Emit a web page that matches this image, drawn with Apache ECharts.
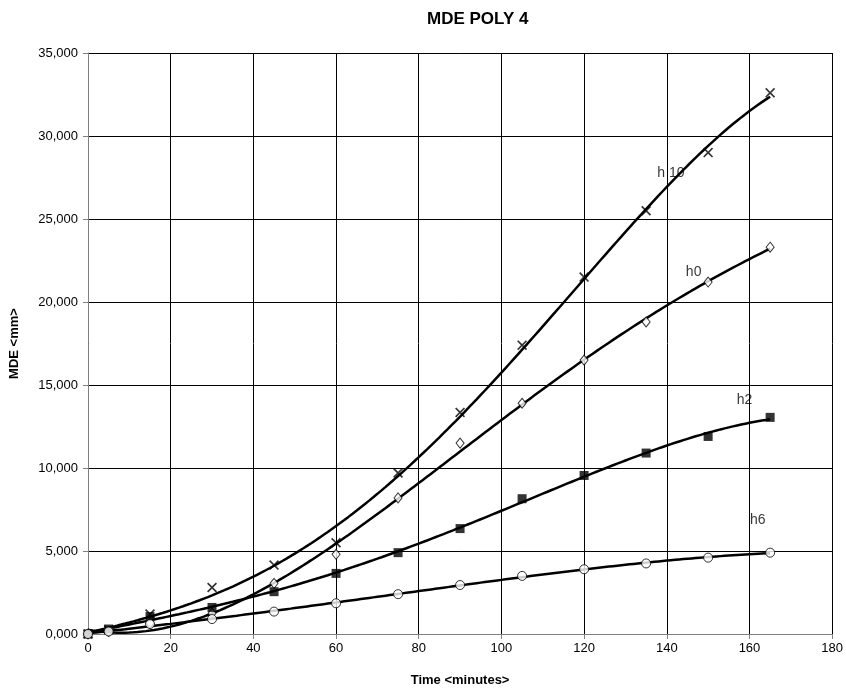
<!DOCTYPE html>
<html>
<head>
<meta charset="utf-8">
<script src="https://cdn.jsdelivr.net/npm/echarts@6/dist/echarts.min.js"></script>
<style>
  html, body { margin: 0; padding: 0; background: #fff; }
  #chart { width: 846px; height: 692px; }
</style>
</head>
<body>
<div id="chart"></div>
<script>
// time in minutes
var times = [0, 5, 15, 30, 45, 60, 75, 90, 105, 120, 135, 150, 165];
// MDE values (mm)
var h10 = [0, 250, 1200, 2800, 4150, 5500, 9700, 13350, 17400, 21500, 25500, 29000, 32600];
var h0 = [0, 150, 650, 1250, 3050, 4800, 8200, 11500, 13900, 16500, 18800, 21200, 23300];
var h2 = [0, 300, 1050, 1600, 2550, 3650, 4900, 6350, 8150, 9550, 10900, 11900, 13050];
var h6 = [0, 150, 600, 900, 1350, 1850, 2400, 2950, 3500, 3900, 4250, 4600, 4900];
var seriesNames = ['h 10', 'h0', 'h2', 'h6'];
// where the curve names sit, in data units [time, mde]
var nameSpots = [[141, 27750], [146.5, 21800], [158.8, 14100], [162, 6830]];

var xTicks = [0, 20, 40, 60, 80, 100, 120, 140, 160, 180];
var yTicks = [0, 5000, 10000, 15000, 20000, 25000, 30000, 35000];

// 4th order least squares trend line, like the spreadsheet did
function polyFit(xs, ys, deg) {
  var n = deg + 1, A = [], i, j, k;
  for (i = 0; i < n; i++) {
    A.push([]);
    for (j = 0; j <= n; j++) A[i].push(0);
  }
  for (k = 0; k < xs.length; k++) {
    var x = xs[k] / 100;
    for (i = 0; i < n; i++) {
      for (j = 0; j < n; j++) A[i][j] += Math.pow(x, i + j);
      A[i][n] += ys[k] * Math.pow(x, i);
    }
  }
  for (i = 0; i < n; i++) {
    var p = i;
    for (j = i + 1; j < n; j++) if (Math.abs(A[j][i]) > Math.abs(A[p][i])) p = j;
    var t = A[i]; A[i] = A[p]; A[p] = t;
    for (j = i + 1; j < n; j++) {
      var f = A[j][i] / A[i][i];
      for (k = i; k <= n; k++) A[j][k] -= f * A[i][k];
    }
  }
  var c = new Array(n);
  for (i = n - 1; i >= 0; i--) {
    var s = A[i][n];
    for (j = i + 1; j < n; j++) s -= A[i][j] * c[j];
    c[i] = s / A[i][i];
  }
  return c;
}

function trend(ys) {
  var c = polyFit(times, ys, 4), out = [];
  var last = times[times.length - 1];
  for (var t = 0; t <= last; t += 1) {
    var x = t / 100, v = 0;
    for (var i = 0; i < c.length; i++) v += c[i] * Math.pow(x, i);
    out.push([t, Math.max(v, 0)]);
  }
  return out;
}

function pairs(ys) {
  return times.map(function (t, i) { return [t, ys[i]]; });
}

var crossPath = 'path://M0,0.12 L0.12,0 L0.5,0.38 L0.88,0 L1,0.12 L0.62,0.5 L1,0.88 L0.88,1 L0.5,0.62 L0.12,1 L0,0.88 L0.38,0.5 Z';
var all = [h10, h0, h2, h6];
var marks = [
  { symbol: crossPath, symbolSize: 10, itemStyle: { color: '#000' } },
  { symbol: 'diamond', symbolSize: [8, 10], itemStyle: { color: '#fff', borderColor: '#000', borderWidth: 1 } },
  { symbol: 'rect', symbolSize: 9, itemStyle: { color: '#000' } },
  { symbol: 'circle', symbolSize: 9, itemStyle: { color: '#fff', borderColor: '#000', borderWidth: 1 } }
];

var series = [];
all.forEach(function (ys, i) {
  series.push({
    type: 'line',
    data: trend(ys),
    showSymbol: false,
    lineStyle: { color: '#000', width: 2.5 },
    z: 2,
    silent: true
  });
  series.push({
    type: 'scatter',
    data: pairs(ys),
    symbol: marks[i].symbol,
    symbolSize: marks[i].symbolSize,
    itemStyle: marks[i].itemStyle,
    z: 3
  });
});
series.push({
  type: 'scatter',
  data: nameSpots.map(function (p, i) { return { value: p, name: seriesNames[i] }; }),
  symbolSize: 0,
  label: {
    show: true,
    position: 'inside',
    formatter: '{b}',
    color: '#000',
    textBorderWidth: 0,
    fontSize: 14,
    fontFamily: 'Liberation Sans, Arial, sans-serif'
  },
  z: 4
});

function yFmt(v) {
  return (v / 1000).toFixed(3).replace('.', ',');
}

var chart = echarts.init(document.getElementById('chart'));
chart.setOption({
  animation: false,
  textStyle: { fontFamily: 'Liberation Sans, Arial, sans-serif' },
  title: {
    text: 'MDE POLY 4',
    left: 422,
    top: 6,
    textStyle: { fontSize: 17, fontWeight: 'bold', color: '#000' }
  },
  grid: { left: 85, right: 13, top: 53, bottom: 55 },
  xAxis: {
    type: 'value',
    min: 0,
    max: 180,
    interval: 20,
    name: 'Time <minutes>',
    nameLocation: 'middle',
    nameGap: 40,
    nameTextStyle: { fontSize: 13, fontWeight: 'bold', color: '#000' },
    axisLine: { lineStyle: { color: '#808080' } },
    axisTick: { show: true, length: 5, lineStyle: { color: '#808080' } },
    axisLabel: { color: '#000', fontSize: 13, margin: 8 },
    splitLine: { show: true, lineStyle: { color: '#000', width: 1 } }
  },
  yAxis: {
    type: 'value',
    min: 0,
    max: 35000,
    interval: 5000,
    name: 'MDE <mm>',
    nameLocation: 'middle',
    nameGap: 67,
    nameRotate: 90,
    nameTextStyle: { fontSize: 13, fontWeight: 'bold', color: '#000' },
    axisLine: { show: true, lineStyle: { color: '#808080' } },
    axisTick: { show: true, length: 5, lineStyle: { color: '#808080' } },
    axisLabel: { color: '#000', fontSize: 13, margin: 10, formatter: yFmt },
    splitLine: { show: true, lineStyle: { color: '#000', width: 1 } }
  },
  series: series
});
</script>
</body>
</html>
